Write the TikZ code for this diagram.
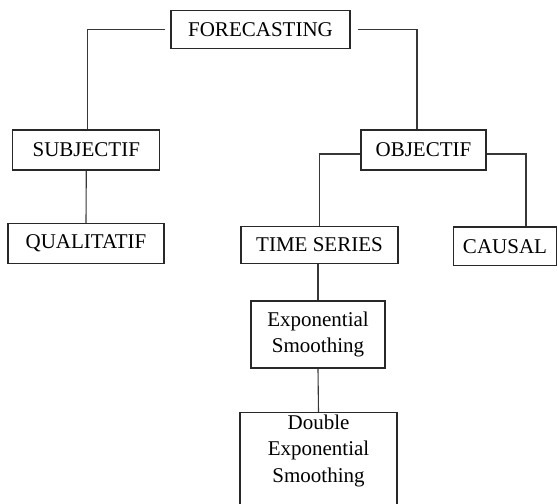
\documentclass[tikz,border=0pt]{standalone}
\usepackage{fontspec}
\setmainfont{Liberation Serif}
\usepackage{xcolor}
\usetikzlibrary{positioning,calc}
\definecolor{fcedge}{RGB}{40,40,40}
\definecolor{fcline}{RGB}{55,55,55}
\tikzset{
  fcbox/.style={
    draw=fcedge, line width=1.3pt, fill=white,
    align=center, inner sep=2pt, text=black,
    font=\fontsize{21}{26.5}\selectfont
  },
  link/.style={draw=fcline, line width=1.1pt},
  every picture/.append style={line join=miter}
}
\begin{document}
\begin{tikzpicture}[x=1pt, y=-1pt]
  \useasboundingbox (0,0) rectangle (558,504);
  \node[fcbox, minimum width=179pt, minimum height=38pt] (fc) at (260.5,29.8) {FORECASTING};
  \node[fcbox, minimum width=147pt, minimum height=40pt] (subj) at (86.3,150) {SUBJECTIF};
  \node[fcbox, minimum width=125pt, minimum height=40pt] (obj) at (423.5,150) {OBJECTIF};
  \node[fcbox, minimum width=156pt, minimum height=40pt] (qual) at (86,243.6) {QUALITATIF};
  \node[fcbox, minimum width=157pt, minimum height=37.6pt] (ts) at (319.5,245) {TIME SERIES};
  \node[fcbox, minimum width=103pt, minimum height=38.7pt] (causal) at (505,246.3) {CAUSAL};
  \node[fcbox, minimum width=134pt, minimum height=67pt] (expo) at (318,334.5) {Exponential\\Smoothing};
  \node[fcbox, minimum width=157pt, minimum height=100pt, anchor=north] (dexpo) at (318.5,412)
    {Double\\Exponential\\Smoothing\\[26pt]};
  % tree links
  \draw[link] ([xshift=-5pt]fc.west) -| (subj.north -| 87.5,0);
  \draw[link] ([xshift=7pt]fc.east) -| ([xshift=-6.5pt]obj.north);
  \draw[link] (subj.south) -- (qual.north);
  \draw[link] ([yshift=-4pt]obj.west) -| (ts.north);
  \draw[link] ([yshift=-4pt]obj.east) -| ([xshift=21pt]causal.north);
  \draw[link] (ts.south -| expo.north) -- (expo.north);
  \draw[link] (expo.south) -- (dexpo.north);
\end{tikzpicture}
\end{document}
